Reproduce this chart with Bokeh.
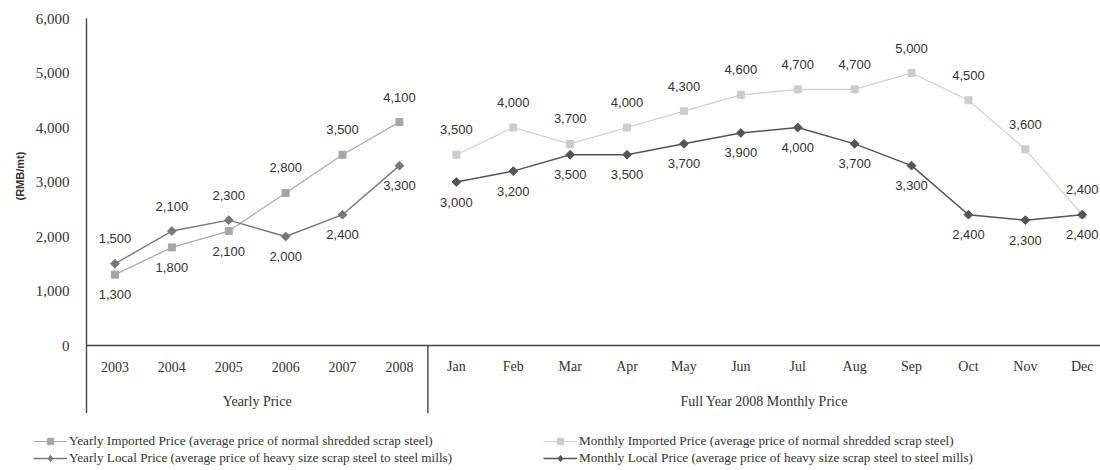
import math
from bokeh.plotting import figure
from bokeh.models import (Range1d, FixedTicker, NumeralTickFormatter, Span,
                          ColumnDataSource, Legend, LegendItem, Title)
from bokeh.core.properties import value
from bokeh.embed import file_html
from bokeh.resources import INLINE

# ---------------- data ----------------
years = ["2003", "2004", "2005", "2006", "2007", "2008"]
months = ["Jan", "Feb", "Mar", "Apr", "May", "Jun",
          "Jul", "Aug", "Sep", "Oct", "Nov", "Dec"]
yearly_imported = [1300, 1800, 2100, 2800, 3500, 4100]
yearly_local = [1500, 2100, 2300, 2000, 2400, 3300]
monthly_imported = [3500, 4000, 3700, 4000, 4300, 4600, 4700, 4700, 5000, 4500, 3600, 2400]
monthly_local = [3000, 3200, 3500, 3500, 3700, 3900, 4000, 3700, 3300, 2400, 2300, 2400]
group_labels = ["Yearly Price", "Full Year 2008 Monthly Price"]
y_ticks = [0, 1000, 2000, 3000, 4000, 5000, 6000]
legend_labels = [
    "Yearly Imported Price (average price of normal shredded scrap steel)",
    "Yearly Local Price (average price of heavy size scrap steel to steel mills)",
    "Monthly Imported Price (average price of normal shredded scrap steel)",
    "Monthly Local Price (average price of heavy size scrap steel to steel mills)",
]

# ---------------- layout constants ----------------
W, H = 1100, 470
TOP = 18            # px where 6000 sits
ZERO_PX = 345       # px where 0 sits
FRAME_BOTTOM = 413
FRAME_LEFT = 86
px_per_unit = (ZERO_PX - TOP) / 6000.0
y_bottom = -(FRAME_BOTTOM - ZERO_PX) / px_per_unit
n_cat = len(years) + len(months)
cat_px = 56.9
x_end = -0.5 + (W - FRAME_LEFT) / cat_px

SERIF = "Liberation Serif"
SANS = "Liberation Sans"

p = figure(width=W, height=FRAME_BOTTOM, output_backend="svg", toolbar_location=None,
           x_range=Range1d(-0.5, x_end), y_range=Range1d(y_bottom, 6000),
           min_border_left=FRAME_LEFT, min_border_right=0,
           min_border_top=TOP, min_border_bottom=0)
p.outline_line_color = None
p.grid.visible = False
p.xaxis.visible = False
p.background_fill_color = "white"
p.border_fill_color = "white"

ya = p.yaxis[0]
ya.ticker = FixedTicker(ticks=y_ticks)
ya.formatter = NumeralTickFormatter(format="0,0")
ya.axis_line_color = "#444444"
ya.axis_line_width = 1.4
ya.major_tick_line_color = None
ya.minor_tick_line_color = None
ya.major_label_standoff = 11
ya.major_label_text_font = SERIF
ya.major_label_text_font_size = "15px"
ya.major_label_text_color = "#333333"

ttl = Title(text="(RMB/mt)", align="left", offset=213, standoff=14,
            text_font=SANS, text_font_style="bold", text_font_size="11px",
            text_color="#333333")
p.add_layout(ttl, "left")

# frame lines
p.add_layout(Span(location=0, dimension="width", line_color="#444444", line_width=1.4))
p.segment(x0=[len(years) - 0.5], y0=[y_bottom], x1=[len(years) - 0.5], y1=[0],
          line_color="#444444", line_width=1.4)

# category labels
cats = years + months
p.text(x=list(range(n_cat)), y=[0] * n_cat, text=cats, y_offset=21,
       text_align="center", text_baseline="middle",
       text_font=value(SERIF), text_font_size="14px", text_color="#333333")
gx = [(len(years) - 1) / 2.0, (len(years) - 0.5 + x_end) / 2.0]
p.text(x=gx, y=[0, 0], text=group_labels, y_offset=56,
       text_align="center", text_baseline="middle",
       text_font=value(SERIF), text_font_size="14px", text_color="#333333")

xs_y = list(range(len(years)))
xs_m = list(range(len(years), n_cat))

# (x, values, other series, line colour, marker colour, marker size, marker angle,
#  line width, legend marker, legend marker size)
series = [
    (xs_y, yearly_imported, yearly_local, "#a9a9a9", "#a6a6a6", 7, 0.0, 1.2, "square", 6),
    (xs_y, yearly_local, yearly_imported, "#7a7a7a", "#777777", 6.2, math.pi / 4, 1.4, "diamond", 9),
    (xs_m, monthly_imported, monthly_local, "#cfcfcf", "#cccccc", 7, 0.0, 1.2, "square", 6),
    (xs_m, monthly_local, monthly_imported, "#555555", "#555555", 6.2, math.pi / 4, 1.5, "diamond", 9),
]

# legend figure (its renderers are hidden; only the legend is shown)
lf = figure(width=W, height=H - FRAME_BOTTOM, output_backend="svg", toolbar_location=None,
            min_border=0, x_axis_location=None, y_axis_location=None)
lf.outline_line_color = None
lf.grid.visible = False
lf.background_fill_color = "white"
lf.border_fill_color = "white"

items = []
for i, (xs, vals, other, lc, mc, ms, ang, lw, lmk, lms) in enumerate(series):
    imported = (i % 2 == 0)
    src = ColumnDataSource(dict(x=xs, y=vals))
    p.line("x", "y", source=src, line_color=lc, line_width=lw)
    p.scatter("x", "y", source=src, marker="square", size=ms, angle=ang,
              fill_color=mc, line_color=mc)
    offs = []
    for v, o in zip(vals, other):
        above = (v >= o) if imported else (v > o)
        offs.append(-25 if above else 20)
    lsrc = ColumnDataSource(dict(x=xs, y=vals, t=[f"{v:,}" for v in vals], off=offs))
    p.text(x="x", y="y", text="t", y_offset="off", source=lsrc,
           text_align="center", text_baseline="middle",
           text_font=value(SANS), text_font_size="13px", text_color="#333333")
    ln2 = lf.line("x", "y", source=src, line_color=lc, line_width=lw, visible=False)
    sc2 = lf.scatter("x", "y", source=src, marker=lmk, size=lms,
                     fill_color=mc, line_color=mc, visible=False)
    items.append(LegendItem(label=legend_labels[i], renderers=[ln2, sc2]))


def make_legend(its, x):
    lg = Legend(items=its, location=(x, 4), orientation="vertical")
    lg.background_fill_alpha = 0
    lg.border_line_color = None
    lg.padding = 0
    lg.margin = 0
    lg.spacing = 1
    lg.glyph_width = 34
    lg.glyph_height = 16
    lg.label_height = 16
    lg.label_standoff = 2
    lg.label_text_font = SERIF
    lg.label_text_font_size = "13.2px"
    lg.label_text_color = "#333333"
    lg.label_text_baseline = "middle"
    lg.inactive_fill_alpha = 0
    lg.click_policy = "none"
    return lg


lf.add_layout(make_legend(items[:2], 33))
lf.add_layout(make_legend(items[2:], 543))

open("out.html", "w").write(file_html([p, lf], INLINE))
